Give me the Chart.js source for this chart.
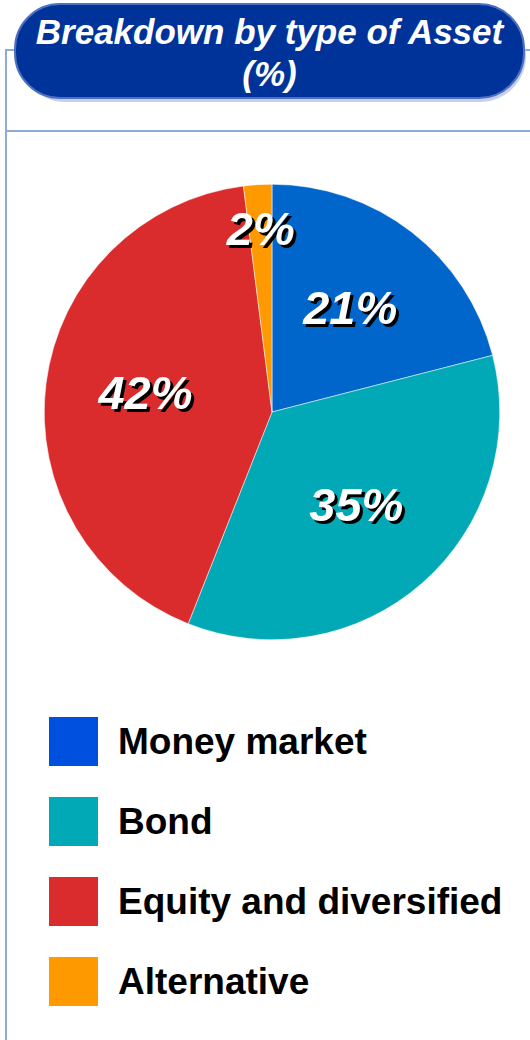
<!DOCTYPE html>
<html>
<head>
<meta charset="utf-8">
<script src="https://cdn.jsdelivr.net/npm/chart.js@4"></script>
<style>
  body { margin: 0; background: #fff; font-family: "Liberation Sans", Arial, sans-serif; }
  #page { position: relative; width: 530px; height: 1040px; overflow: hidden; }
  .frame-head { position: absolute; left: 5px; top: 49px; width: 530px; height: 79px;
    border-left: 2px solid #8eaadb; border-top: 2px solid #8eaadb; border-bottom: 2px solid #8eaadb; }
  .frame-body { position: absolute; left: 5px; top: 130px; height: 910px; border-left: 2px solid #8eaadb; }
  .pill-shadow { position: absolute; left: 19px; top: 10px; width: 507px; height: 92px;
    border-radius: 46px; background: #c6d0ea; }
  .pill { position: absolute; left: 14px; top: 3px; width: 507px; height: 92px; border-radius: 46px;
    background: #003399; border: 2px solid #4f6fc0; box-sizing: content-box;
    color: #fff; font-weight: bold; font-style: italic; font-size: 35px; line-height: 42px;
    text-align: center; }
  .pill span { display: block; margin-top: 6px; }
  #chartBox { position: absolute; left: 44px; top: 184px; width: 456px; height: 456px; }
  #legend { position: absolute; left: 49px; top: 717px; }
  .item { display: flex; align-items: center; height: 49px; margin-bottom: 31px; }
  .swatch { width: 49px; height: 49px; margin-right: 20px; }
  .item span { font-weight: bold; font-size: 37px; color: #000; white-space: nowrap; }
</style>
</head>
<body>
<div id="page">
  <div class="frame-head"></div>
  <div class="frame-body"></div>
  <div class="pill-shadow"></div>
  <div class="pill"><span>Breakdown by type of Asset<br>(%)</span></div>
  <div id="chartBox"><canvas id="assetChart"></canvas></div>
  <div id="legend"></div>
</div>
<script>
const categories = ["Money market", "Bond", "Equity and diversified", "Alternative"];
const shares = [21, 35, 42, 2];
const sliceColors = ["#0066cc", "#00a9b5", "#da2c2c", "#ff9900"];
const legendColors = ["#0050e0", "#00a9b5", "#da2c2c", "#ff9900"];

// white bold italic labels with a hard black shadow, inside each slice
const sliceLabels = {
  id: "sliceLabels",
  afterDatasetsDraw(chart) {
    const ctx = chart.ctx;
    const meta = chart.getDatasetMeta(0);
    ctx.save();
    ctx.font = "italic bold 47px 'Liberation Sans', Arial, sans-serif";
    ctx.textAlign = "center";
    ctx.textBaseline = "middle";
    meta.data.forEach((arc, i) => {
      const p = arc.getProps(["x", "y", "startAngle", "endAngle", "outerRadius"], true);
      const mid = (p.startAngle + p.endAngle) / 2;
      const frac = shares[i] < 5 ? 0.79 : 0.56;
      const tx = p.x + Math.cos(mid) * p.outerRadius * frac;
      const ty = p.y + Math.sin(mid) * p.outerRadius * frac;
      const text = shares[i] + "%";
      ctx.fillStyle = "#000";
      ctx.fillText(text, tx + 3, ty + 3);
      ctx.fillStyle = "#fff";
      ctx.fillText(text, tx, ty);
    });
    ctx.restore();
  },
};

new Chart(document.getElementById("assetChart"), {
  type: "pie",
  data: {
    labels: categories,
    datasets: [
      {
        data: shares,
        backgroundColor: sliceColors,
        borderColor: "#ffffff",
        borderWidth: 0.5,
      },
    ],
  },
  options: {
    responsive: true,
    maintainAspectRatio: false,
    animation: false,
    layout: { padding: 0 },
    plugins: {
      legend: { display: false },
      tooltip: { enabled: false },
    },
  },
  plugins: [sliceLabels],
});

const legend = document.getElementById("legend");
categories.forEach((name, i) => {
  const item = document.createElement("div");
  item.className = "item";
  item.innerHTML = '<div class="swatch" style="background:' + legendColors[i] + '"></div><span>' + name + "</span>";
  legend.appendChild(item);
});
</script>
</body>
</html>
